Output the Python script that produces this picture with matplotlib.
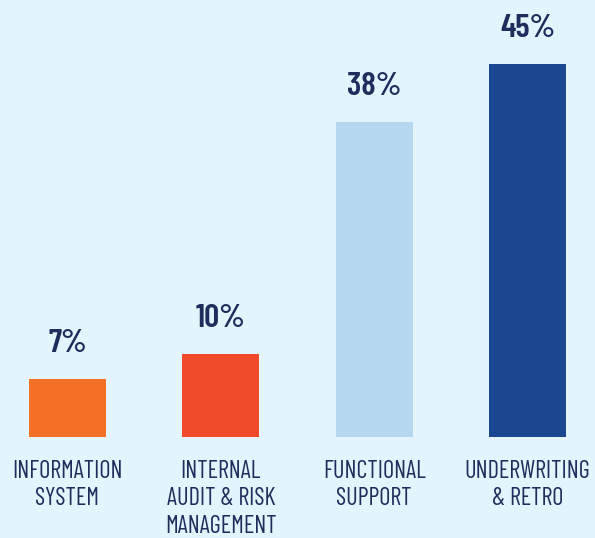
import matplotlib.pyplot as plt

categories = ["INFORMATION\nSYSTEM", "INTERNAL\nAUDIT & RISK\nMANAGEMENT",
              "FUNCTIONAL\nSUPPORT", "UNDERWRITING\n& RETRO"]
shares = [7, 10, 38, 45]
bar_colors = ["#f37027", "#f04a2b", "#b5d7f0", "#1b4690"]

font = "Barlow Condensed"
bg = "#e3f4fc"
ink = "#1e2d5c"

fig = plt.figure(figsize=(5.95, 5.38), dpi=100, facecolor=bg)
ax = fig.add_axes([0, 101 / 538, 1, 437 / 538])
ax.set_facecolor(bg)
ax.axis("off")

x = range(len(shares))
bars = ax.bar(x, shares, width=0.5, color=bar_colors)

for b, v in zip(bars, shares):
    ax.annotate(f"{v}%", (b.get_x() + b.get_width() / 2, v),
                xytext=(0, 19.5), textcoords="offset points",
                ha="center", va="baseline", fontsize=24, fontweight=600,
                family=font, color=ink)

for i, name in zip(x, categories):
    ax.annotate(name, (i, 0), xytext=(0, -16.5), textcoords="offset points",
                ha="center", va="top", multialignment="center",
                fontsize=17.5, fontweight=400, family=font, color=ink,
                linespacing=1.24, annotation_clip=False)

ax.set_xlim(-0.44, 3.44)
ax.set_ylim(0, 437 / 8.29)

fig.savefig("out.png", dpi=100, facecolor=bg)
